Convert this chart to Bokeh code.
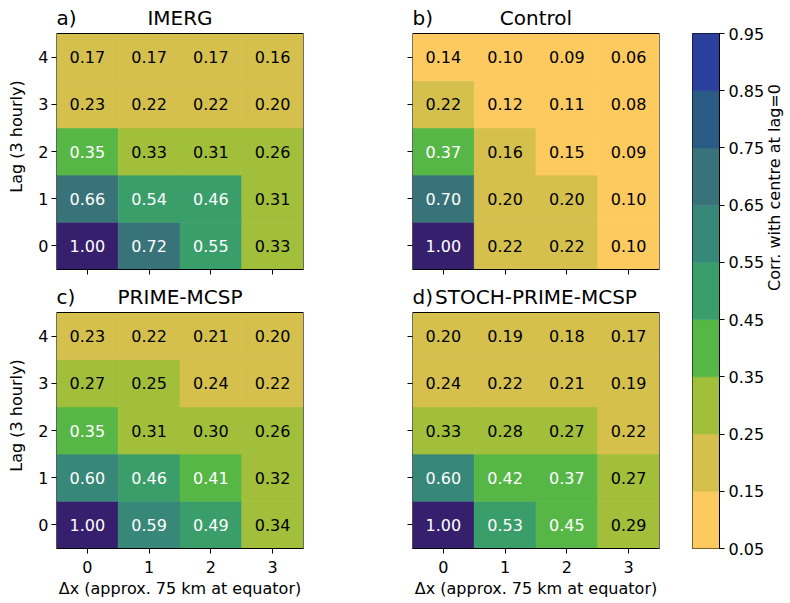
import math
from bokeh.plotting import figure
from bokeh.layouts import row, column
from bokeh.models import (FixedTicker, LinearColorMapper, ColumnDataSource,
                          PrintfTickFormatter, Range1d)
from bokeh.transform import transform
from bokeh.core.properties import value
from bokeh.embed import file_html
from bokeh.resources import INLINE

# ---------------- data ----------------
dx = [0, 1, 2, 3]
lags = [0, 1, 2, 3, 4]
# rows: lag 0..4, columns: dx 0..3
imerg = [[1.00, 0.72, 0.548, 0.33],
         [0.66, 0.54, 0.46, 0.31],
         [0.352, 0.33, 0.31, 0.26],
         [0.23, 0.22, 0.22, 0.20],
         [0.17, 0.17, 0.17, 0.16]]
control = [[1.00, 0.22, 0.22, 0.10],
           [0.70, 0.20, 0.20, 0.10],
           [0.37, 0.16, 0.148, 0.09],
           [0.22, 0.12, 0.11, 0.08],
           [0.14, 0.10, 0.09, 0.06]]
prime = [[1.00, 0.59, 0.49, 0.34],
         [0.60, 0.46, 0.41, 0.32],
         [0.352, 0.31, 0.30, 0.26],
         [0.27, 0.252, 0.24, 0.22],
         [0.23, 0.22, 0.21, 0.20]]
stoch = [[1.00, 0.53, 0.448, 0.29],
         [0.60, 0.42, 0.37, 0.27],
         [0.33, 0.28, 0.27, 0.22],
         [0.24, 0.22, 0.21, 0.19],
         [0.20, 0.19, 0.18, 0.17]]
bounds = [0.05, 0.15, 0.25, 0.35, 0.45, 0.55, 0.65, 0.75, 0.85, 0.95]
palette = ["#fdca60", "#d5c04d", "#a1bf3a", "#57b746", "#3a9e6a",
           "#378878", "#39737a", "#2a5c86", "#2b3f9d"]
over_color = "#36206d"

FONT = "DejaVu Sans"
mapper = LinearColorMapper(palette=palette, low=bounds[0], high=bounds[-1],
                           high_color=over_color, low_color=palette[0])

HEAT_W, HEAT_H = 247, 236     # pixel size of the heatmap area
TITLE_SPACE = 30              # extra frame space above the heatmap for titles
PX_PER_Y = HEAT_H / len(lags)


def style_axes(p, left_labels, bottom_labels, left_title, bottom_title):
    p.xaxis.ticker = FixedTicker(ticks=dx)
    p.yaxis.ticker = FixedTicker(ticks=lags)
    for ax in (p.xaxis, p.yaxis):
        ax.major_tick_out = 5
        ax.major_tick_in = 0
        ax.minor_tick_line_color = None
        ax.major_tick_line_color = "black"
        ax.major_label_text_font = FONT
        ax.major_label_text_font_size = "16px"
        ax.major_label_text_color = "black"
        ax.axis_label_text_font = FONT
        ax.axis_label_text_font_size = "16px"
        ax.axis_label_text_font_style = "normal"
        ax.axis_label_text_color = "black"
    p.xaxis.axis_line_color = "black"
    p.yaxis.axis_line_color = None
    p.yaxis.major_label_standoff = 3
    p.xaxis.major_label_standoff = 7
    p.yaxis.axis_label_standoff = 9
    p.xaxis.axis_label_standoff = 3
    if not left_labels:
        p.yaxis.major_label_overrides = {t: "" for t in lags}
    if not bottom_labels:
        p.xaxis.major_label_overrides = {t: "" for t in dx}
    if left_title:
        p.yaxis.axis_label = left_title
    if bottom_title:
        p.xaxis.axis_label = bottom_title


def make_panel(vals, tag, name, bl, br, bt, bb, left_labels, bottom_labels,
               left_title=None, bottom_title=None):
    xs, ys, vs, texts, tcols = [], [], [], [], []
    for i, lag in enumerate(lags):
        for j, d in enumerate(dx):
            v = vals[i][j]
            xs.append(d)
            ys.append(lag)
            vs.append(v)
            texts.append("%.2f" % v)
            tcols.append("white" if v >= 0.35 else "black")
    src = ColumnDataSource(dict(x=xs, y=ys, v=vs, t=texts, c=tcols))
    y0 = lags[0] - 0.5
    y1 = lags[-1] + 0.5
    p = figure(frame_width=HEAT_W, frame_height=HEAT_H + TITLE_SPACE,
               x_range=Range1d(dx[0] - 0.5, dx[-1] + 0.5),
               y_range=Range1d(y0, y1 + TITLE_SPACE / PX_PER_Y),
               output_backend="svg", toolbar_location=None,
               tools="", min_border_left=bl, min_border_right=br,
               min_border_top=bt, min_border_bottom=bb)
    p.grid.visible = False
    p.outline_line_color = None
    p.rect(x="x", y="y", width=1, height=1, source=src,
           fill_color=transform("v", mapper), line_color=transform("v", mapper),
           line_width=0.6)
    p.text(x="x", y="y", text="t", text_color="c", source=src,
           text_align="center", text_baseline="middle",
           text_font=value(FONT), text_font_size=value("16px"))
    # border around the heatmap (acts as the axes frame)
    p.rect(x=[(dx[0] + dx[-1]) / 2], y=[(lags[0] + lags[-1]) / 2],
           width=len(dx), height=len(lags), fill_color=None,
           line_color="black", line_width=1)
    ty = y1 + 15.5 / PX_PER_Y
    p.text(x=[dx[0] - 0.5], y=[ty], text=[tag], text_align="left",
           text_baseline="middle", text_color="black",
           text_font=value(FONT), text_font_size=value("20px"))
    p.text(x=[(dx[0] + dx[-1]) / 2], y=[ty], text=[name], text_align="center",
           text_baseline="middle", text_color="black",
           text_font=value(FONT), text_font_size=value("20px"))
    style_axes(p, left_labels, bottom_labels, left_title, bottom_title)
    return p


ylab = "Lag (3 hourly)"
xlab = "\u0394x (approx. 75 km at equator)"
pa = make_panel(imerg, "a)", "IMERG", 56, 10, 3, 10, True, False, ylab, None)
pc = make_panel(prime, "c)", "PRIME-MCSP", 56, 10, 3, 50, True, True, ylab, xlab)
pb = make_panel(control, "b)", "Control", 99, 8, 3, 10, False, False)
pd = make_panel(stoch, "d)", "STOCH-PRIME-MCSP", 99, 8, 3, 50, False, True, None, xlab)

# ---------------- colorbar ----------------
cb_src = ColumnDataSource(dict(bottom=bounds[:-1], top=bounds[1:], color=palette))
cb = figure(frame_width=27, frame_height=515, x_range=(0, 1),
            y_range=(bounds[0], bounds[-1]), output_backend="svg",
            toolbar_location=None, tools="", x_axis_location=None,
            y_axis_location="right", min_border_left=25, min_border_right=66,
            min_border_top=33, min_border_bottom=50)
cb.grid.visible = False
cb.outline_line_color = "black"
cb.quad(left=0, right=1, bottom="bottom", top="top", fill_color="color",
        line_color="color", line_width=0.6, source=cb_src)
ax = cb.yaxis[0]
ax.ticker = FixedTicker(ticks=bounds)
ax.formatter = PrintfTickFormatter(format="%.2f")
ax.major_tick_out = 5
ax.major_tick_in = 0
ax.minor_tick_line_color = None
ax.major_tick_line_color = "black"
ax.axis_line_color = "black"
ax.major_label_text_font = FONT
ax.major_label_text_font_size = "16px"
ax.major_label_text_color = "black"
ax.major_label_standoff = 4
ax.axis_label = "Corr. with centre at lag=0"
ax.axis_label_text_font = FONT
ax.axis_label_text_font_size = "16px"
ax.axis_label_text_font_style = "normal"
ax.axis_label_text_color = "black"
ax.axis_label_standoff = 7
if "axis_label_orientation" in ax.properties():
    ax.axis_label_orientation = math.pi / 2

layout = row(column(pa, pc), column(pb, pd), cb)
open("out.html", "w").write(file_html(layout, INLINE))
